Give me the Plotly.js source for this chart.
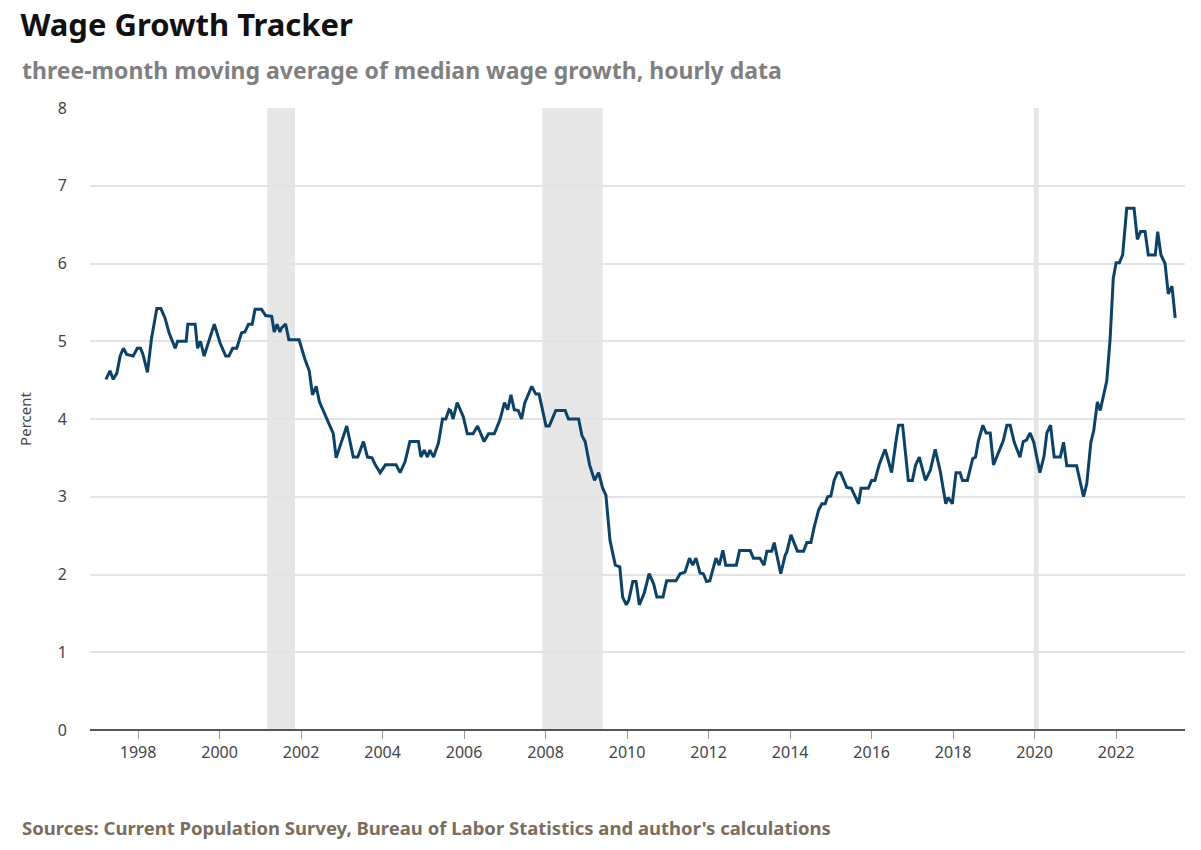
<!DOCTYPE html>
<html>
<head>
<meta charset="utf-8">
<script src="https://cdn.plot.ly/plotly-3.0.1.min.js"></script>
<style>
  body { margin: 0; background: #fff; }
  #chart { width: 1201px; height: 850px; }
</style>
</head>
<body>
<div id="chart"></div>
<script>
// decimal year, wage growth (percent)
var years = [
  1997.21, 1997.31, 1997.39, 1997.48, 1997.56, 1997.64, 1997.72, 1997.88, 1997.98, 1998.06,
  1998.12, 1998.23, 1998.33, 1998.46, 1998.56, 1998.66, 1998.76, 1998.91, 1998.97, 1999.18,
  1999.22, 1999.40, 1999.46, 1999.53, 1999.62, 1999.72, 1999.87, 2000.01, 2000.15, 2000.23,
  2000.32, 2000.42, 2000.54, 2000.62, 2000.71, 2000.80, 2000.87, 2001.03, 2001.13, 2001.28,
  2001.34, 2001.41, 2001.48, 2001.52, 2001.62, 2001.70, 2001.95, 2002.10, 2002.20, 2002.28,
  2002.37, 2002.45, 2002.79, 2002.86, 2003.12, 2003.28, 2003.39, 2003.53, 2003.63, 2003.74,
  2003.82, 2003.94, 2004.07, 2004.33, 2004.43, 2004.55, 2004.67, 2004.88, 2004.94, 2005.02,
  2005.10, 2005.16, 2005.25, 2005.37, 2005.47, 2005.55, 2005.63, 2005.67, 2005.73, 2005.83,
  2005.98, 2006.08, 2006.22, 2006.33, 2006.49, 2006.60, 2006.74, 2006.88, 2006.99, 2007.07,
  2007.15, 2007.23, 2007.33, 2007.41, 2007.49, 2007.66, 2007.76, 2007.84, 2008.01, 2008.09,
  2008.25, 2008.48, 2008.56, 2008.81, 2008.89, 2008.97, 2009.08, 2009.20, 2009.30, 2009.40,
  2009.48, 2009.58, 2009.71, 2009.82, 2009.89, 2009.98, 2010.04, 2010.14, 2010.22, 2010.30,
  2010.42, 2010.54, 2010.65, 2010.73, 2010.88, 2010.97, 2011.20, 2011.30, 2011.42, 2011.53,
  2011.61, 2011.69, 2011.79, 2011.87, 2011.95, 2012.03, 2012.18, 2012.26, 2012.35, 2012.42,
  2012.68, 2012.76, 2013.02, 2013.10, 2013.26, 2013.36, 2013.43, 2013.55, 2013.61, 2013.77,
  2013.88, 2013.92, 2014.02, 2014.18, 2014.33, 2014.41, 2014.51, 2014.59, 2014.70, 2014.78,
  2014.86, 2014.92, 2015.00, 2015.08, 2015.16, 2015.24, 2015.39, 2015.50, 2015.68, 2015.74,
  2015.92, 2016.00, 2016.08, 2016.19, 2016.33, 2016.37, 2016.49, 2016.60, 2016.66, 2016.76,
  2016.90, 2017.00, 2017.08, 2017.17, 2017.32, 2017.44, 2017.56, 2017.68, 2017.82, 2017.88,
  2017.98, 2018.07, 2018.17, 2018.23, 2018.35, 2018.48, 2018.55, 2018.62, 2018.73, 2018.81,
  2018.91, 2018.99, 2019.11, 2019.23, 2019.32, 2019.40, 2019.50, 2019.64, 2019.72, 2019.80,
  2019.89, 2019.98, 2020.13, 2020.23, 2020.30, 2020.39, 2020.48, 2020.63, 2020.71, 2020.79,
  2021.03, 2021.20, 2021.28, 2021.38, 2021.45, 2021.54, 2021.61, 2021.77, 2021.85, 2021.93,
  2022.00, 2022.08, 2022.16, 2022.26, 2022.44, 2022.52, 2022.60, 2022.71, 2022.79, 2022.96,
  2023.02, 2023.10, 2023.20, 2023.28, 2023.37, 2023.45
];
var wageGrowth = [
  4.51, 4.62, 4.51, 4.59, 4.81, 4.91, 4.83, 4.81, 4.91, 4.91,
  4.83, 4.60, 5.04, 5.42, 5.42, 5.30, 5.11, 4.91, 5.00, 5.00,
  5.22, 5.22, 4.91, 5.00, 4.81, 4.98, 5.22, 4.98, 4.81, 4.81,
  4.91, 4.91, 5.11, 5.12, 5.22, 5.22, 5.41, 5.41, 5.33, 5.32,
  5.12, 5.22, 5.12, 5.17, 5.22, 5.02, 5.02, 4.76, 4.62, 4.31,
  4.42, 4.22, 3.81, 3.50, 3.91, 3.51, 3.51, 3.71, 3.51, 3.50,
  3.41, 3.31, 3.41, 3.41, 3.31, 3.45, 3.71, 3.71, 3.51, 3.60,
  3.51, 3.60, 3.51, 3.69, 4.00, 4.00, 4.12, 4.11, 4.00, 4.21,
  4.03, 3.81, 3.81, 3.91, 3.71, 3.81, 3.81, 3.99, 4.21, 4.12,
  4.31, 4.12, 4.11, 4.00, 4.21, 4.42, 4.32, 4.32, 3.91, 3.91,
  4.11, 4.11, 4.00, 4.00, 3.79, 3.71, 3.41, 3.21, 3.31, 3.11,
  3.02, 2.44, 2.12, 2.10, 1.71, 1.61, 1.67, 1.91, 1.91, 1.61,
  1.76, 2.01, 1.88, 1.71, 1.71, 1.92, 1.92, 2.01, 2.03, 2.21,
  2.12, 2.21, 2.02, 2.01, 1.91, 1.92, 2.21, 2.12, 2.31, 2.12,
  2.12, 2.31, 2.31, 2.21, 2.21, 2.12, 2.30, 2.30, 2.41, 2.01,
  2.25, 2.29, 2.51, 2.30, 2.30, 2.41, 2.41, 2.61, 2.83, 2.91,
  2.91, 3.00, 3.01, 3.21, 3.31, 3.31, 3.12, 3.11, 2.91, 3.11,
  3.11, 3.21, 3.21, 3.42, 3.61, 3.54, 3.31, 3.72, 3.92, 3.92,
  3.21, 3.21, 3.41, 3.51, 3.21, 3.34, 3.61, 3.34, 2.91, 2.99,
  2.91, 3.31, 3.31, 3.21, 3.21, 3.49, 3.51, 3.72, 3.92, 3.82,
  3.82, 3.41, 3.56, 3.72, 3.92, 3.92, 3.70, 3.51, 3.71, 3.73,
  3.82, 3.70, 3.31, 3.52, 3.82, 3.92, 3.51, 3.51, 3.70, 3.40,
  3.40, 3.00, 3.17, 3.70, 3.85, 4.22, 4.11, 4.49, 5.01, 5.81,
  6.01, 6.01, 6.11, 6.71, 6.71, 6.31, 6.41, 6.41, 6.11, 6.11,
  6.41, 6.11, 6.00, 5.61, 5.71, 5.30
];
// recessions (shaded bands)
var recStart = [2001.17, 2007.92, 2019.98];
var recEnd = [2001.85, 2009.40, 2020.10];
var tickYears = [1998, 2000, 2002, 2004, 2006, 2008, 2010, 2012, 2014, 2016, 2018, 2020, 2022];

var shapes = recStart.map(function (s, i) {
  return {
    type: 'rect', xref: 'x', yref: 'paper', x0: s, x1: recEnd[i], y0: 0, y1: 1,
    fillcolor: '#e6e6e6', line: { width: 0 }, layer: 'below'
  };
});

var trace = {
  x: years,
  y: wageGrowth,
  type: 'scatter',
  mode: 'lines',
  line: { color: '#0d4266', width: 3 },
  hoverinfo: 'x+y'
};

var layout = {
  width: 1201,
  height: 850,
  font: { family: 'Noto Sans, Open Sans, sans-serif', color: '#333' },
  paper_bgcolor: '#fff',
  plot_bgcolor: '#fff',
  margin: { l: 90, r: 16, t: 108, b: 120 },
  showlegend: false,
  title: {
    text: '<b>Wage Growth Tracker</b>',
    x: 0.017, xanchor: 'left', y: 0.97, yanchor: 'middle',
    font: { size: 31, color: '#111' }
  },
  xaxis: {
    range: [1996.82, 2023.69],
    tickvals: tickYears,
    ticktext: tickYears.map(String),
    showgrid: false,
    zeroline: false,
    ticks: 'outside', ticklen: 8, tickcolor: '#999',
    tickfont: { size: 16, color: '#444' },
    showline: false
  },
  yaxis: {
    range: [0, 8],
    dtick: 1,
    showgrid: true, gridcolor: '#e3e3e3', gridwidth: 1.5,
    zeroline: true, zerolinecolor: '#555', zerolinewidth: 2,
    ticks: '', ticklabelstandoff: 22,
    tickfont: { size: 16, color: '#444' },
    title: { text: 'Percent', font: { size: 15, color: '#444' }, standoff: 22 }
  },
  shapes: shapes,
  annotations: [
    {
      xref: 'paper', yref: 'paper', x: -0.064, y: 1.061, xanchor: 'left', yanchor: 'middle',
      text: '<b>three-month moving average of median wage growth, hourly data</b>',
      showarrow: false, font: { size: 23, color: '#7f7f7f' }
    },
    {
      xref: 'paper', yref: 'paper', x: -0.064, y: -0.156, xanchor: 'left', yanchor: 'middle',
      text: "<b>Sources: Current Population Survey, Bureau of Labor Statistics and author's calculations</b>",
      showarrow: false, font: { size: 18.5, color: '#7a6d5c' }
    }
  ]
};

Plotly.newPlot('chart', [trace], layout, { displayModeBar: false });
</script>
</body>
</html>
